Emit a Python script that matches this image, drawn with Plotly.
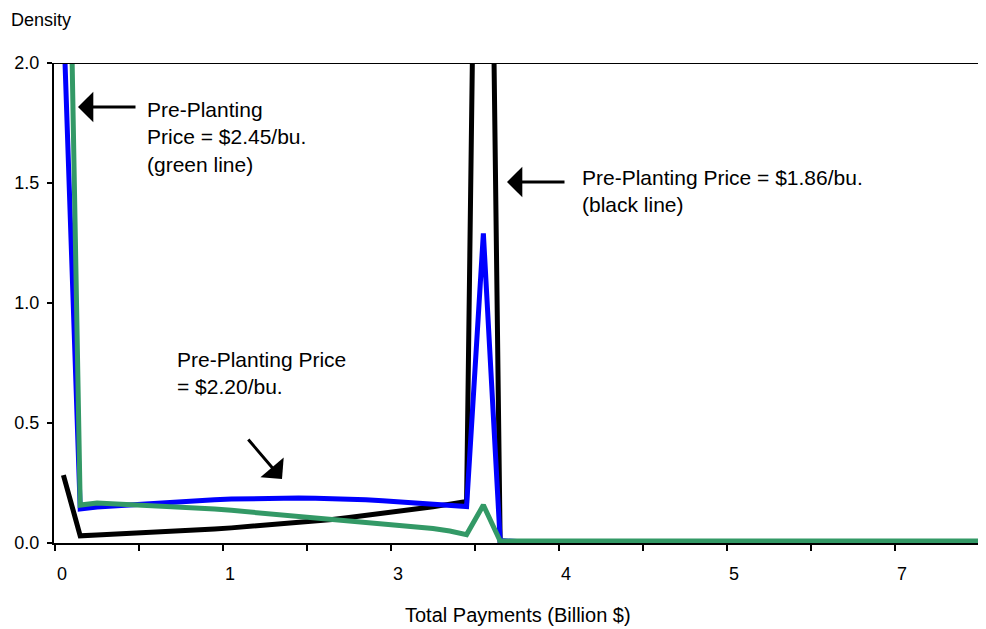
import plotly.graph_objects as go

# ---- data (category index along the payments axis) ----
categories = list(range(56))

black_186 = [0.283, 0.030, 0.033, 0.036, 0.039, 0.042, 0.046, 0.050, 0.054, 0.058,
             0.063, 0.068, 0.073, 0.079, 0.085, 0.091, 0.098, 0.106, 0.114, 0.123,
             0.132, 0.141, 0.151, 0.162, 0.173, 5.500, 0.000, 0.000, 0.000, 0.000,
             0.000, 0.000, 0.000, 0.000, 0.000, 0.000, 0.000, 0.000, 0.000, 0.000,
             0.000, 0.000, 0.000, 0.000, 0.000, 0.000, 0.000, 0.000, 0.000, 0.000,
             0.000, 0.000, 0.000, 0.000, 0.000, 0.000]

blue_220 = [2.200, 0.142, 0.150, 0.155, 0.160, 0.165, 0.169, 0.173, 0.177, 0.180,
            0.183, 0.185, 0.186, 0.187, 0.187, 0.186, 0.185, 0.183, 0.180, 0.176,
            0.172, 0.168, 0.164, 0.159, 0.152, 1.290, 0.010, 0.006, 0.006, 0.006,
            0.006, 0.006, 0.006, 0.006, 0.006, 0.006, 0.006, 0.006, 0.006, 0.006,
            0.006, 0.006, 0.006, 0.006, 0.006, 0.006, 0.006, 0.006, 0.006, 0.006,
            0.006, 0.006, 0.006, 0.006, 0.006, 0.006]

green_245 = [4.000, 0.158, 0.167, 0.164, 0.161, 0.158, 0.155, 0.151, 0.147, 0.142,
             0.136, 0.130, 0.124, 0.118, 0.112, 0.106, 0.100, 0.094, 0.088, 0.082,
             0.076, 0.069, 0.060, 0.050, 0.035, 0.158, 0.008, 0.008, 0.008, 0.008,
             0.008, 0.008, 0.008, 0.008, 0.008, 0.008, 0.008, 0.008, 0.008, 0.008,
             0.008, 0.008, 0.008, 0.008, 0.008, 0.008, 0.008, 0.008, 0.008, 0.008,
             0.008, 0.008, 0.008, 0.008, 0.008, 0.008]

x_tick_vals = [-0.5, 4.5, 9.5, 14.5, 19.5, 24.5, 29.5, 34.5, 39.5, 44.5, 49.5, 54.5]
x_tick_text = ["0", "", "1", "", "3", "", "4", "", "5", "", "7", ""]
y_tick_vals = [0.0, 0.5, 1.0, 1.5, 2.0]

FONT = "Arial, 'Liberation Sans', sans-serif"

# page body has an 8px margin: work in screen pixels, shift by OFF
OFF = 8
FIG_W, FIG_H = 986 - OFF, 629 - OFF
L, R, T, B = 54 - OFF, 986 - OFF, 63 - OFF, 543 - OFF
W, H = R - L, B - T
def px(xs):
    return (xs - OFF - L) / W
def py(ys):
    return (B - (ys - OFF)) / H

fig = go.Figure()
fig.add_trace(go.Scatter(x=categories, y=black_186, mode="lines",
                         line=dict(color="#000000", width=5), showlegend=False))
fig.add_trace(go.Scatter(x=categories, y=blue_220, mode="lines",
                         line=dict(color="#0000FF", width=5), showlegend=False))
fig.add_trace(go.Scatter(x=categories, y=green_245, mode="lines",
                         line=dict(color="#339966", width=5), showlegend=False))

annotations = [
    dict(text="Density", x=px(9), y=py(20), xref="paper", yref="paper",
         xanchor="left", yanchor="middle", showarrow=False,
         font=dict(size=18, color="black", family=FONT)),
    dict(text="Total Payments (Billion $)", x=px(518), y=py(615), xref="paper", yref="paper",
         xanchor="center", yanchor="middle", showarrow=False,
         font=dict(size=20, color="black", family=FONT)),
    dict(text="Pre-Planting<br>Price = $2.45/bu.<br>(green line)", x=px(145), y=py(137),
         xref="paper", yref="paper", xanchor="left", yanchor="middle", align="left",
         showarrow=False, font=dict(size=21, color="black", family=FONT)),
    dict(text="Pre-Planting Price = $1.86/bu.<br>(black line)", x=px(580), y=py(191),
         xref="paper", yref="paper", xanchor="left", yanchor="middle", align="left",
         showarrow=False, font=dict(size=21, color="black", family=FONT)),
    dict(text="Pre-Planting Price<br>= $2.20/bu.", x=px(175), y=py(373),
         xref="paper", yref="paper", xanchor="left", yanchor="middle", align="left",
         showarrow=False, font=dict(size=21, color="black", family=FONT)),
]
for (tail, tip) in [((137, 107), (78, 107)), ((566, 182), (507, 182)), ((247, 438), (282, 479))]:
    annotations.append(dict(text="", x=px(tip[0]), y=py(tip[1]), xref="paper", yref="paper",
                            ax=tail[0] - tip[0], ay=tail[1] - tip[1], showarrow=True,
                            arrowhead=1, arrowsize=1.7, arrowwidth=3, arrowcolor="black",
                            standoff=0, startstandoff=0))

fig.update_layout(
    width=FIG_W, height=FIG_H,
    margin=dict(l=L, r=FIG_W - R, t=T, b=FIG_H - B),
    paper_bgcolor="white", plot_bgcolor="white",
    font=dict(family=FONT, color="black"),
    annotations=annotations,
    shapes=[dict(type="line", xref="paper", yref="y", x0=0, x1=1, y0=2.0, y1=2.0,
                 line=dict(color="black", width=2))],
)
fig.update_xaxes(range=[-0.5 - 1 / 16.8, 54.92], showgrid=False, zeroline=False,
                 showline=True, linecolor="black", linewidth=2,
                 tickmode="array", tickvals=x_tick_vals, ticktext=x_tick_text,
                 ticks="outside", ticklen=6, tickwidth=1.5, tickcolor="black",
                 ticklabelshift=7, ticklabelstandoff=7,
                 tickfont=dict(size=18, color="black", family=FONT))
fig.update_yaxes(range=[0, 2.0], showgrid=False, zeroline=False,
                 showline=True, linecolor="black", linewidth=2,
                 tickmode="array", tickvals=y_tick_vals, tickformat=".1f",
                 ticks="outside", ticklen=5, tickwidth=1.5, tickcolor="black",
                 ticklabelstandoff=4,
                 tickfont=dict(size=18, color="black", family=FONT))

fig.write_html("out.html")
